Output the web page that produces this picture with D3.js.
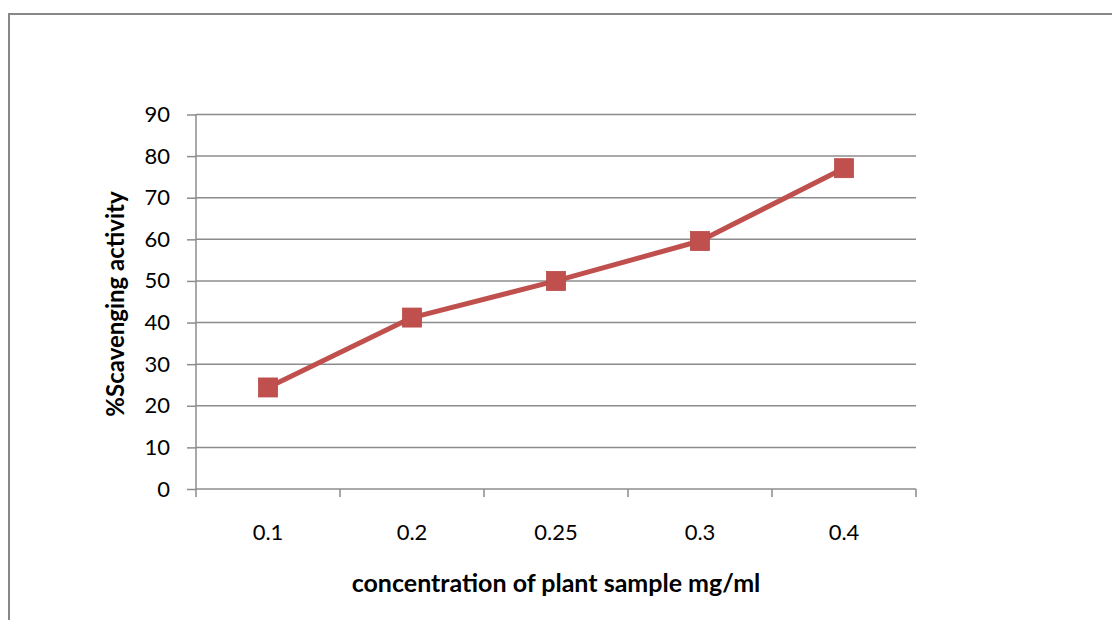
<!DOCTYPE html>
<html><head><meta charset="utf-8">
<script src="https://cdn.jsdelivr.net/npm/d3@7"></script>
<style>body{margin:0;background:#fff;} svg{display:block;font-family:Lato,"Open Sans",sans-serif;}</style>
</head><body>
<script>
const categories = ["0.1","0.2","0.25","0.3","0.4"];
const values = [24.4, 41.2, 50.0, 59.6, 77.1];
const yTicks = [0,10,20,30,40,50,60,70,80,90];
const xTitle = "concentration of plant sample mg/ml";
const yTitle = "%Scavenging activity";

const W = 1112, H = 620;
const svg = d3.select("body").append("svg").attr("width", W).attr("height", H);
svg.append("rect").attr("x",9).attr("y",14).attr("width",1120).attr("height",640)
  .attr("fill","none").attr("stroke","#878787").attr("stroke-width",2);

const m = {left:196, right:916, top:114.5, bottom:489};
const x = d3.scaleBand().domain(categories).range([m.left, m.right]).padding(0);
const y = d3.scaleLinear().domain([0,90]).range([m.bottom, m.top]);

// gridlines
svg.append("g").selectAll("line").data(yTicks.filter(d=>d>0)).join("line")
  .attr("x1", m.left).attr("x2", m.right).attr("y1", d=>y(d)).attr("y2", d=>y(d))
  .attr("stroke","#8c8c8c").attr("stroke-width",1.5);

// y axis
const ya = svg.append("g").attr("transform",`translate(${m.left},0)`)
  .call(d3.axisLeft(y).tickValues(yTicks).tickSize(9).tickPadding(17));
ya.select(".domain").attr("stroke","#8c8c8c").attr("stroke-width",1.5).attr("d",`M0,${m.top}V${m.bottom}`);
ya.selectAll(".tick line").attr("stroke","#8c8c8c").attr("stroke-width",1.5);
ya.selectAll(".tick text").attr("font-size",22).attr("fill","#000").attr("font-family","Lato,sans-serif");

// x axis
const xa = svg.append("g").attr("transform",`translate(0,${m.bottom})`)
  .call(d3.axisBottom(x).tickSize(0).tickPadding(35));
xa.select(".domain").attr("stroke","#8c8c8c").attr("stroke-width",1.5).attr("d",`M${m.left},0H${m.right}`);
xa.selectAll(".tick text").attr("font-size",22).attr("fill","#000").attr("font-family","Lato,sans-serif");
const bounds = categories.map(c=>x(c)).concat([m.right]);
svg.append("g").selectAll("line").data(bounds).join("line")
  .attr("x1",d=>d).attr("x2",d=>d).attr("y1",m.bottom).attr("y2",m.bottom+8)
  .attr("stroke","#8c8c8c").attr("stroke-width",1.5);

// line
const cx = c => x(c) + x.bandwidth()/2;
const data = categories.map((c,i)=>({c, v:values[i]}));
svg.append("path").datum(data)
  .attr("d", d3.line().x(d=>cx(d.c)).y(d=>y(d.v)))
  .attr("fill","none").attr("stroke","#C0504D").attr("stroke-width",5).attr("stroke-linejoin","round");
const ms = 19;
svg.append("g").selectAll("rect").data(data).join("rect")
  .attr("x", d=>cx(d.c)-ms/2).attr("y", d=>y(d.v)-ms/2).attr("width",ms).attr("height",ms)
  .attr("fill","#C0504D").attr("stroke","#B84A47").attr("stroke-width",0.8);

// titles
svg.append("text").attr("x",556).attr("y",592).attr("text-anchor","middle")
  .attr("font-size",25).attr("font-weight","bold").attr("fill","#000").text(xTitle);
svg.append("text").attr("transform","translate(124,304) rotate(-90)").attr("text-anchor","middle")
  .attr("font-size",24).attr("font-weight","bold").attr("fill","#000").text(yTitle);
</script>
</body></html>
